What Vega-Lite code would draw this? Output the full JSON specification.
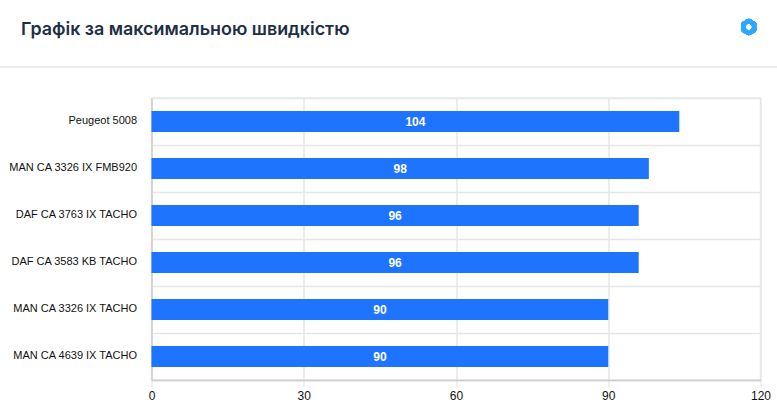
{"$schema":"https://vega.github.io/schema/vega-lite/v6.json","width":609,"height":282,"autosize":{"type":"none"},"padding":{"left":151.5,"top":98,"right":16.5,"bottom":37},"background":"#ffffff","view":{"stroke":"#ebebeb","strokeWidth":1.5},"title":{"text":"Графік за максимальною швидкістю","frame":"group","anchor":"start","dx":-130.5,"offset":-20,"font":"Inter","fontSize":17.9,"fontWeight":600,"color":"#1e2f45"},"data":{"values":[{"name":"Peugeot 5008","v":104},{"name":"MAN CA 3326 IX FMB920","v":98},{"name":"DAF CA 3763 IX TACHO","v":96},{"name":"DAF CA 3583 KB TACHO","v":96},{"name":"MAN CA 3326 IX TACHO","v":90},{"name":"MAN CA 4639 IX TACHO","v":90}]},"layer":[{"mark":{"type":"bar","color":"#1e73ff","height":{"band":0.447}},"encoding":{"y":{"field":"name","type":"nominal","sort":null,"scale":{"paddingInner":0,"paddingOuter":0},"axis":{"title":null,"tickBand":"extent","grid":true,"gridColor":"#e6e6e6","gridWidth":1.5,"ticks":false,"domain":true,"domainColor":"#cccccc","domainWidth":1.5,"labelFont":"Liberation Sans","labelFontSize":11,"labelColor":"#111111","labelPadding":15,"labelBaseline":"middle","labelOffset":-1}},"x":{"field":"v","type":"quantitative","scale":{"domain":[0,120],"nice":false},"axis":{"title":null,"values":[0,30,60,90,120],"grid":true,"gridColor":"#e6e6e6","gridWidth":1.5,"domain":true,"domainColor":"#cccccc","domainWidth":1.5,"tickColor":"#e0e0e0","tickSize":7,"labelFont":"Liberation Sans","labelFontSize":12,"labelColor":"#111111","labelPadding":3,"labelFlush":false}}}},{"transform":[{"calculate":"datum.v/2","as":"mid"}],"mark":{"type":"text","color":"#ffffff","font":"Liberation Sans","fontSize":12,"fontWeight":"bold","baseline":"middle","dy":0.5},"encoding":{"y":{"field":"name","type":"nominal","sort":null,"axis":null},"x":{"field":"mid","type":"quantitative"},"text":{"field":"v","type":"quantitative"}}},{"mark":{"type":"rule","color":"#ebebeb","strokeWidth":1},"encoding":{"x":{"datum":-37.5,"type":"quantitative"},"x2":{"datum":127.7},"y":{"datum":313,"type":"quantitative","scale":{"domain":[0,282],"nice":false},"axis":null}}},{"mark":{"type":"point","filled":true,"color":"#2aa8ff","opacity":1,"size":320,"shape":"M0.82 0A0.5 0.5 0 0 1 0.41 0.71A0.5 0.5 0 0 1 -0.41 0.71A0.5 0.5 0 0 1 -0.82 0A0.5 0.5 0 0 1 -0.41 -0.71A0.5 0.5 0 0 1 0.41 -0.71A0.5 0.5 0 0 1 0.82 0ZM0.36 0A0.36 0.36 0 1 0 -0.36 0A0.36 0.36 0 1 0 0.36 0Z"},"encoding":{"x":{"datum":117.7,"type":"quantitative"},"y":{"datum":353,"type":"quantitative","scale":{"domain":[0,282],"nice":false},"axis":null}}}],"resolve":{"scale":{"y":"independent"},"axis":{"y":"independent"}}}
